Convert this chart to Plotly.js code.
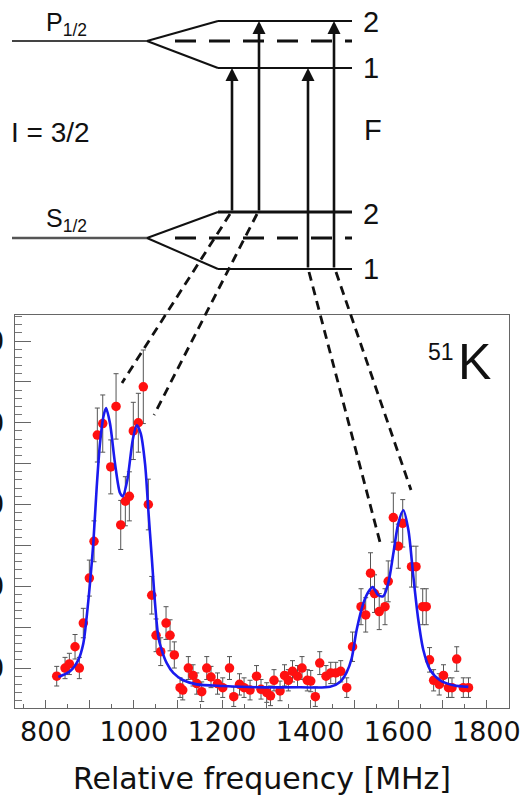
<!DOCTYPE html>
<html>
<head>
<meta charset="utf-8">
<script src="https://cdn.plot.ly/plotly-3.0.1.min.js"></script>
<style>html,body{margin:0;padding:0;background:#fff;} #chart{width:528px;height:804px;}</style>
</head>
<body>
<div id="chart"></div>
<script>
// ---- data ----
const freq = [824.7,843.6,853.4,866.3,876.1,885.1,898.8,909.4,916.9,929.2,947.3,959.4,970,980.5,989.6,998.6,1010,1021.3,1032.7,1040.4,1050.2,1060.8,1072.9,1082,1091.7,1104.7,1110.8,1123.5,1134.2,1142.6,1153.9,1165.3,1175,1189.8,1201.6,1217,1226.6,1239.7,1250,1263.6,1278.3,1288.5,1301.5,1310.1,1318,1331.7,1341.9,1350.5,1360,1371.4,1381.6,1393.6,1401.4,1411.8,1421.8,1436.1,1446.8,1458.1,1469.5,1483.1,1496.3,1515.6,1526.2,1537.1,1546.2,1556.9,1570,1577.3,1588.9,1600.2,1610.2,1630.2,1640.4,1655.6,1663.6,1671.1,1680.4,1693.1,1702.8,1714.2,1722.1,1732.8,1747.8,1759.6];
const counts = [90,100,105,126,100,155,210,255,385,399,346,420,275,304,310,390,400,444,300,189,140,120,155,140,116,76,73,100,91,81,71,100,89,81,76,100,65,80,76,73,90,74,70,66,85,72,91,85,96,90,100,85,84,65,106,90,94,94,96,76,126,175,165,216,191,169,175,206,284,249,277,224,224,175,175,110,85,80,91,76,76,111,76,76];
const errs = [12,13,13,15,13,18,22,25,33,35,33,40,30,30,30,35,36,45,31,23,20,17,20,19,16,12,12,14,13,13,12,14,13,13,12,14,12,13,12,12,13,12,12,12,13,12,13,13,13,13,14,13,13,12,14,13,13,13,13,12,18,22,21,25,23,22,22,25,30,27,29,25,25,22,22,15,13,13,13,12,12,15,12,12];
const fitFreq = [828.4,854.9,873.8,885.1,892.8,900.3,907.8,915.6,923,930.5,936.7,945.7,957.1,968.5,974.6,985,997.3,1006.4,1015.4,1025.2,1032.7,1040.4,1047.9,1055.4,1063.1,1074.5,1089.4,1112.1,1142.6,1203,1278.8,1377,1445.2,1467.9,1483.1,1494.4,1505.8,1520.8,1532.1,1542.1,1554.8,1566.2,1577.5,1588.9,1600.2,1611.6,1623,1634.3,1645.6,1657,1672.2,1694.9,1725.1,1759.2];
const fitCounts = [89,96,110,130,163,204,253,322,375,407,418,399,350,314,310,330,379,397,387,350,293,236,179,138,122,106,94,85,80,78,76.5,76.4,77,83,95,112,147,179,193,199,189,188,204,240,277,293,269,212,159,122,98,85,79,77];
const xTickVals = [800,900,1000,1100,1200,1300,1400,1500,1600,1700,1800];
const xTickText = ['800','','1000','','1200','','1400','','1600','','1800'];
const yTickVals = [100,150,200,250,300,350,400,450,500];
const yTickText = ['100','','200','','300','','400','','500'];
const isotopeMass = '51';
const isotopeSymbol = 'K';

// ---- level-scheme diagram geometry (figure pixels) ----
const W = 528, H = 804;
const M = {l: 15, r: 19, t: 315, b: 96};
const pw = W - M.l - M.r, ph = H - M.t - M.b;
const px = x => (x - M.l) / pw;
const py = y => (H - M.b - y) / ph;

const solidLines = [
  [12,41,147,41,2,'#444'],[147,41,218,21,2,'#111'],[147,41,218,68,2,'#111'],
  [218,21,352,21,2,'#111'],[218,68,352,68,2,'#111'],
  [12,238,147,238,2.5,'#555'],[147,238,218,212,2,'#111'],[147,238,218,269,2,'#111'],
  [218,212,352,212,3,'#111'],[218,269,352,269,2,'#111']
];
const midDashed = [[175,41,352,41],[175,238,352,238]];
const connectors = [[230,214,122,383],[257,214,154,415],[309,272,381,546],[336,272,411,490]];
const arrows = [[232,212,68],[259,212,21],[308,269,68],[334,269,21]];

const shapes = [];
solidLines.forEach(s => shapes.push({type:'line', xref:'paper', yref:'paper', x0:px(s[0]), y0:py(s[1]), x1:px(s[2]), y1:py(s[3]), line:{color:s[5], width:s[4]}}));
midDashed.forEach(s => shapes.push({type:'line', xref:'paper', yref:'paper', x0:px(s[0]), y0:py(s[1]), x1:px(s[2]), y1:py(s[3]), line:{color:'#111', width:3, dash:'21px,13px'}}));
connectors.forEach(s => shapes.push({type:'line', xref:'paper', yref:'paper', x0:px(s[0]), y0:py(s[1]), x1:px(s[2]), y1:py(s[3]), line:{color:'#111', width:2.8, dash:'9px,6px'}}));

const annotations = [];
arrows.forEach(a => annotations.push({xref:'paper', yref:'paper', x:px(a[0]), y:py(a[2]), ax:0, ay:a[1]-a[2], axref:'pixel', ayref:'pixel', showarrow:true, arrowhead:2, arrowsize:1, arrowwidth:2.6, arrowcolor:'#111', text:''}));
const txt = (t, x, y, size, anchor) => annotations.push({xref:'paper', yref:'paper', x:px(x), y:py(y), xanchor:anchor||'left', yanchor:'middle', text:t, showarrow:false, font:{family:'Liberation Sans, Arial, sans-serif', size:size, color:'#111'}});
txt('P<sub>1/2</sub>', 44, 24, 25);
txt('S<sub>1/2</sub>', 44, 220, 25);
txt('I = 3/2', 9, 132, 28);
txt('F', 362, 130, 29);
txt('2', 361, 22, 29);
txt('1', 361, 68, 29);
txt('2', 361, 214, 29);
txt('1', 361, 269, 29);
txt(isotopeMass, 441, 352, 23, 'center');
txt(isotopeSymbol, 474, 362, 50, 'center');

const traces = [
  {x: freq, y: counts, type:'scatter', mode:'markers',
   marker:{color:'#ff1010', size:9.5},
   error_y:{type:'data', array: errs, visible:true, color:'#555', thickness:1, width:2.5},
   hoverinfo:'skip'},
  {x: fitFreq, y: fitCounts, type:'scatter', mode:'lines',
   line:{color:'#1a1aee', width:2.6, shape:'spline', smoothing:0.8}, hoverinfo:'skip'}
];

const axFont = 'DejaVu Sans, Verdana, sans-serif';
const layout = {
  width: W, height: H,
  margin: M,
  paper_bgcolor:'#fff', plot_bgcolor:'#fff',
  showlegend:false,
  font:{family:'Liberation Sans, Arial, sans-serif', color:'#111'},
  xaxis:{range:[730,1851.5], tickmode:'array', tickvals:xTickVals, ticktext:xTickText,
    ticks:'inside', ticklen:8, tickwidth:1, tickcolor:'#666',
    minor:{tickmode:'linear', tick0:0, dtick:50, ticks:'inside', ticklen:4, tickcolor:'#666', showgrid:false},
    showline:true, linecolor:'#666', linewidth:1, mirror:true, showgrid:false, zeroline:false,
    tickfont:{family:axFont, size:27, color:'#111'}, automargin:false,
    title:{text:'Relative frequency [MHz]', font:{family:axFont, size:30, color:'#111'}, standoff:21}},
  yaxis:{range:[51.1,531.8], tickmode:'array', tickvals:yTickVals, ticktext:yTickText,
    ticks:'inside', ticklen:16, tickwidth:1, tickcolor:'#666',
    minor:{tickmode:'linear', tick0:0, dtick:10, ticks:'inside', ticklen:7, tickcolor:'#777', showgrid:false},
    showline:true, linecolor:'#666', linewidth:1, mirror:true, showgrid:false, zeroline:false,
    tickfont:{family:axFont, size:28, color:'#111'}, automargin:false, ticklabelstandoff:4},
  shapes: shapes,
  annotations: annotations
};

Plotly.newPlot('chart', traces, layout, {displayModeBar:false, staticPlot:true});
</script>
</body>
</html>
